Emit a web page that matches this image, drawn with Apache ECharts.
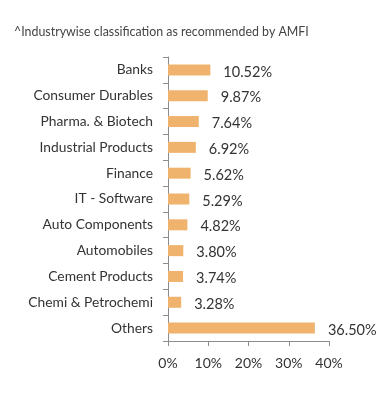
<!DOCTYPE html>
<html><head><meta charset="utf-8">
<script src="https://cdn.jsdelivr.net/npm/echarts@6/dist/echarts.min.js"></script>
<style>html,body{margin:0;padding:0;background:#fff}#c{width:391px;height:416px}</style>
</head><body><div id="c"></div>
<script>
const titleText = '^Industrywise classification as recommended by AMFI';
const categories = ['Banks','Consumer Durables','Pharma. & Biotech','Industrial Products','Finance','IT - Software','Auto Components','Automobiles','Cement Products','Chemi & Petrochemi','Others'];
const values = [10.52, 9.87, 7.64, 6.92, 5.62, 5.29, 4.82, 3.80, 3.74, 3.28, 36.50];
const xTicks = [0, 10, 20, 30, 40];

const chart = echarts.init(document.getElementById('c'), null, {renderer:'canvas'});
const font = 'Lato';
chart.setOption({
  animation: false,
  title: {text: titleText, left: 9, top: 21, textStyle: {fontFamily: font, fontSize: 12.4, fontWeight: 'normal', color: '#444'}},
  grid: {left: 168, right: 62, top: 57, bottom: 75, containLabel: false},
  xAxis: {
    type: 'value', min: xTicks[0], max: xTicks[xTicks.length-1], interval: 10,
    axisLine: {show: true, lineStyle: {color: '#8c8c8c', width: 1}},
    axisTick: {show: true, length: 5, lineStyle: {color: '#8c8c8c'}},
    splitLine: {show: false},
    axisLabel: {formatter: v => v + '%', fontFamily: font, fontSize: 14, color: '#333', margin: 15}
  },
  yAxis: {
    type: 'category', data: categories, inverse: true,
    axisLine: {show: true, lineStyle: {color: '#8c8c8c', width: 1}},
    axisTick: {show: true, length: 5, lineStyle: {color: '#8c8c8c'}},
    axisLabel: {fontFamily: font, fontSize: 13.8, color: '#333', margin: 15}
  },
  series: [{
    type: 'bar', data: values, barWidth: 11,
    itemStyle: {color: '#F0B36D'},
    label: {show: true, position: 'right', distance: 13, formatter: p => p.value.toFixed(2) + '%', fontFamily: font, fontSize: 14.5, color: '#333', offset: [0, 2]}
  }]
});
</script></body></html>
